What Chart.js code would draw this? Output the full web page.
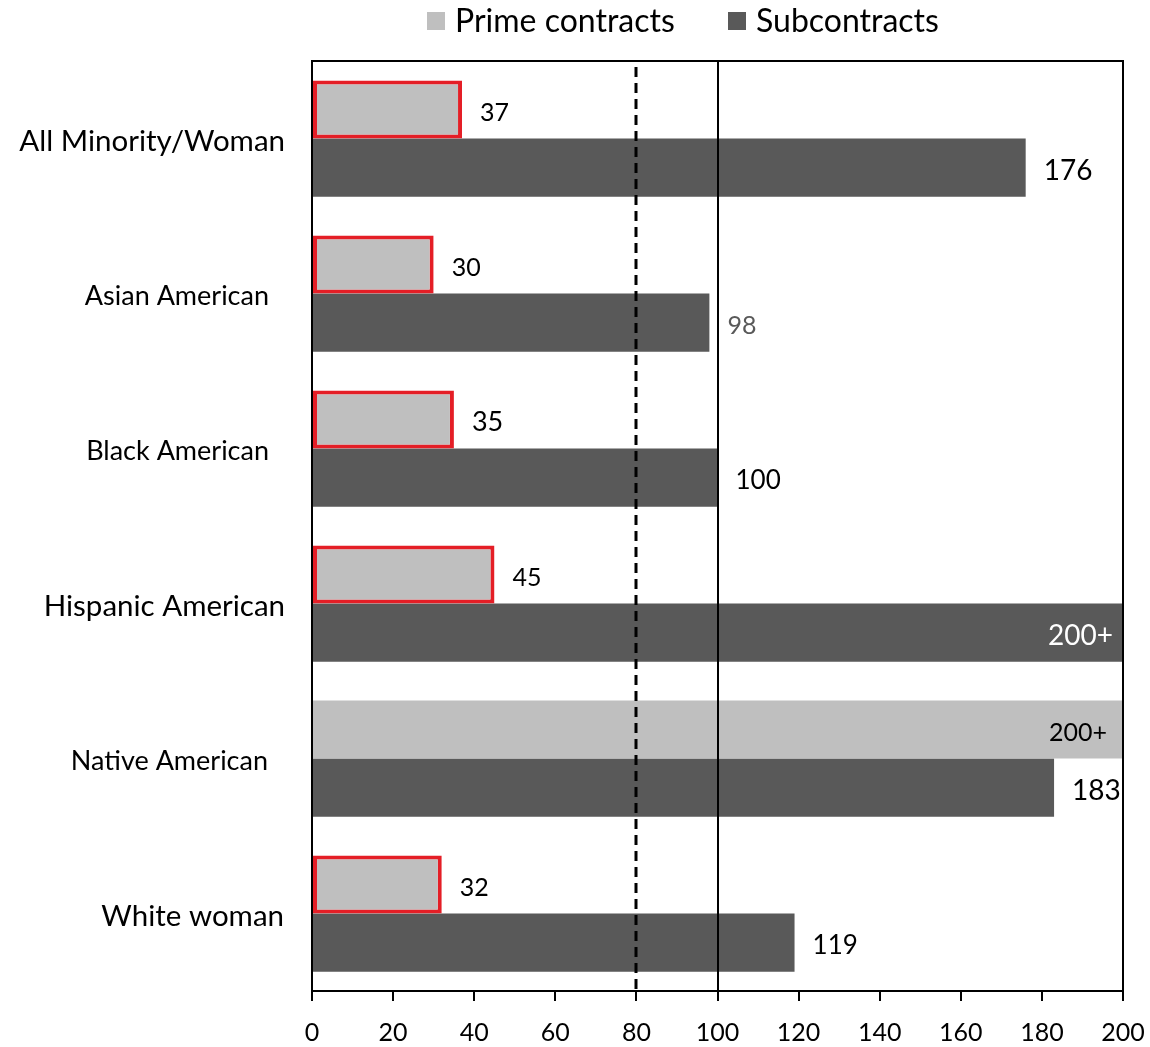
<!DOCTYPE html>
<html>
<head>
<meta charset="utf-8">
<title>Disparity indices</title>
<script src="https://cdn.jsdelivr.net/npm/chart.js@4.4.0/dist/chart.umd.min.js"></script>
<style>
  body { margin: 0; background: #fff; }
</style>
</head>
<body>
<canvas id="chart" width="1150" height="1047"></canvas>
<script>
const categories = ['All Minority/Woman', 'Asian American', 'Black American', 'Hispanic American', 'Native American', 'White woman'];
const primeValues = [37, 30, 35, 45, 200, 32];
const subValues = [176, 98, 100, 200, 183, 119];
const primeLabels = ['37', '30', '35', '45', '200+', '32'];
const subLabels = ['176', '98', '100', '200+', '183', '119'];
const xMin = 0;
const xMax = 200;
const xStep = 20;
const substantialLine = 80;   // dashed
const parityLine = 100;       // solid

const FONT = 'Lato, "Open Sans", sans-serif';
const LIGHT = '#BFBFBF';
const DARK = '#595959';
const RED = '#E41E26';

// category label sizes and right inset from the axis
const catFont = [29.5, 27, 27, 29.5, 27, 29.5];
const catInset = [27, 43, 43, 27, 44, 28];
// value label sizes and colours
const primeFont = [25, 25, 27, 25, 25, 25];
const subFont = [28, 25, 26, 28, 28, 26];
const subColor = ['#000', DARK, '#000', '#fff', '#000', '#000'];

const drawExtras = {
  id: 'drawExtras',
  afterDatasetsDraw(chart) {
    const { ctx, chartArea: a, scales: { x, y } } = chart;
    ctx.save();

    // frame top and right
    ctx.strokeStyle = '#000';
    ctx.lineWidth = 2;
    ctx.beginPath();
    ctx.moveTo(a.left, a.top);
    ctx.lineTo(a.right, a.top);
    ctx.lineTo(a.right, a.bottom);
    ctx.stroke();

    // reference lines
    const x80 = Math.round(x.getPixelForValue(substantialLine));
    ctx.lineWidth = 3;
    ctx.setLineDash([10, 6]);
    ctx.beginPath();
    ctx.moveTo(x80, a.top + 6);
    ctx.lineTo(x80, a.bottom);
    ctx.stroke();

    const x100 = Math.round(x.getPixelForValue(parityLine));
    ctx.lineWidth = 2;
    ctx.setLineDash([]);
    ctx.beginPath();
    ctx.moveTo(x100, a.top);
    ctx.lineTo(x100, a.bottom);
    ctx.stroke();

    // value labels
    const sets = [
      { labels: primeLabels, fonts: primeFont, colors: primeLabels.map(() => '#000') },
      { labels: subLabels, fonts: subFont, colors: subColor }
    ];
    sets.forEach((s, di) => {
      chart.getDatasetMeta(di).data.forEach((bar, i) => {
        const text = s.labels[i];
        ctx.font = s.fonts[i] + 'px ' + FONT;
        ctx.fillStyle = s.colors[i];
        ctx.textBaseline = 'middle';
        if (text.endsWith('+')) {
          ctx.textAlign = 'right';
          ctx.fillText(text, bar.x - (di === 0 ? 16 : 10), bar.y + 3);
        } else {
          ctx.textAlign = 'left';
          ctx.fillText(text, bar.x + 18, bar.y + 3);
        }
      });
    });

    // category labels
    ctx.fillStyle = '#000';
    ctx.textAlign = 'right';
    ctx.textBaseline = 'middle';
    categories.forEach((c, i) => {
      ctx.font = catFont[i] + 'px ' + FONT;
      ctx.fillText(c, a.left - catInset[i], y.getPixelForValue(i) + 3);
    });

    // legend
    const items = [
      { label: 'Prime contracts', color: LIGHT, x: 427 },
      { label: 'Subcontracts', color: DARK, x: 728 }
    ];
    ctx.font = '32px ' + FONT;
    ctx.textAlign = 'left';
    items.forEach(it => {
      ctx.fillStyle = it.color;
      ctx.fillRect(it.x, 12, 18, 18);
      ctx.fillStyle = '#000';
      ctx.fillText(it.label, it.x + 28, 22);
    });

    ctx.restore();
  }
};

new Chart(document.getElementById('chart'), {
  type: 'bar',
  data: {
    labels: categories,
    datasets: [
      {
        label: 'Prime contracts',
        data: primeValues,
        backgroundColor: LIGHT,
        borderColor: primeValues.map(v => v < substantialLine ? RED : LIGHT),
        borderWidth: primeValues.map(v => v < substantialLine ? 4 : 0),
        borderSkipped: false,
        categoryPercentage: 0.75,
        barPercentage: 1.0
      },
      {
        label: 'Subcontracts',
        data: subValues,
        backgroundColor: DARK,
        borderWidth: 0,
        categoryPercentage: 0.75,
        barPercentage: 1.0
      }
    ]
  },
  options: {
    indexAxis: 'y',
    responsive: false,
    animation: false,
    devicePixelRatio: 1,
    layout: { padding: { top: 61, right: 27, left: 0, bottom: 0 } },
    plugins: {
      legend: { display: false },
      tooltip: { enabled: false }
    },
    scales: {
      x: {
        type: 'linear',
        min: xMin,
        max: xMax,
        ticks: {
          stepSize: xStep,
          color: '#000',
          font: { family: FONT, size: 25 },
          padding: 17,
          maxRotation: 0
        },
        grid: {
          drawOnChartArea: false,
          drawTicks: true,
          tickLength: 10,
          tickColor: '#000',
          lineWidth: 2
        },
        border: { color: '#000', width: 2 },
        afterFit(scale) {
          scale.height = 56;
          scale.paddingRight = 0;
          scale.paddingLeft = 0;
        }
      },
      y: {
        ticks: { display: false },
        grid: { display: false },
        border: { color: '#000', width: 2 },
        afterFit(scale) { scale.width = 312; }
      }
    }
  },
  plugins: [drawExtras]
});
</script>
</body>
</html>
